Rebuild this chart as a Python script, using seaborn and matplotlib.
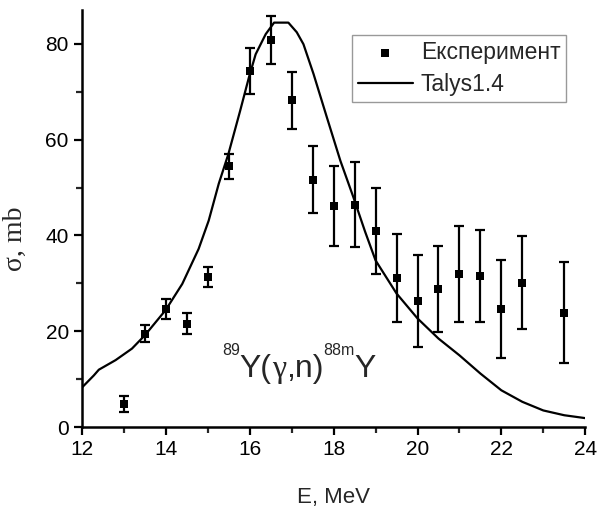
import matplotlib
matplotlib.use("Agg")
import matplotlib.pyplot as plt
from matplotlib.ticker import MultipleLocator
import pandas as pd
import seaborn as sns

# Experimental points: energy (MeV), cross section (mb), error (mb)
exp_e = [13.0, 13.5, 14.0, 14.5, 15.0, 15.5, 16.0, 16.5, 17.0, 17.5, 18.0,
         18.5, 19.0, 19.5, 20.0, 20.5, 21.0, 21.5, 22.0, 22.5, 23.5]
exp_sigma = [4.9, 19.5, 24.6, 21.6, 31.4, 54.4, 74.4, 80.8, 68.2, 51.6, 46.2,
             46.4, 41.0, 31.1, 26.3, 28.8, 31.9, 31.5, 24.6, 30.1, 23.9]
exp_err = [1.7, 1.8, 2.1, 2.2, 2.1, 2.6, 4.8, 5.0, 6.0, 7.0, 8.3,
           8.9, 9.0, 9.2, 9.6, 9.0, 10.0, 9.6, 10.2, 9.7, 10.6]

# Talys1.4 calculation
talys_e = [12.0, 12.28, 12.4, 12.8, 13.19, 13.5, 13.99, 14.39, 14.78, 15.02,
           15.26, 15.49, 15.77, 15.98, 16.14, 16.38, 16.58, 16.92, 17.12,
           17.28, 17.52, 17.84, 18.16, 18.47, 18.75, 19.0, 19.5, 20.0, 20.5,
           21.0, 21.5, 22.0, 22.5, 23.0, 23.5, 24.0]
talys_sigma = [8.3, 10.8, 12.0, 14.0, 16.4, 19.2, 24.4, 29.9, 37.2, 43.1,
               50.8, 57.0, 66.0, 73.0, 77.8, 82.0, 84.4, 84.4, 82.4,
               79.9, 73.7, 64.6, 55.6, 48.0, 40.8, 34.8, 27.9, 22.7, 18.5,
               15.0, 11.2, 7.7, 5.3, 3.5, 2.5, 1.9]

# reaction label pieces: (text, superscript?, serif?)
reaction_parts = [("89", True, False), ("Y(", False, False), ("γ", False, True),
                  (",n)", False, False), ("88m", True, False), ("Y", False, False)]

exp_df = pd.DataFrame({"E": exp_e, "sigma": exp_sigma, "err": exp_err})
talys_df = pd.DataFrame({"E": talys_e, "sigma": talys_sigma})

sns.set_theme(style="ticks")
plt.rcParams["font.family"] = ["Liberation Sans", "DejaVu Sans"]
serif = ["Liberation Serif", "DejaVu Serif"]

fig = plt.figure(figsize=(5.99, 5.08), dpi=100)
ax = fig.add_axes([0.137, 0.159, 0.840, 0.821])

ax.errorbar(exp_df["E"], exp_df["sigma"], yerr=exp_df["err"], fmt="none",
            ecolor="black", elinewidth=1.6, capsize=3.8, capthick=1.6, zorder=2)
sns.scatterplot(data=exp_df, x="E", y="sigma", marker="s", s=30, color="black",
                edgecolor="black", linewidth=0, ax=ax, label="Експеримент",
                zorder=3)
sns.lineplot(data=talys_df, x="E", y="sigma", color="black", linewidth=1.6,
             ax=ax, label="Talys1.4", zorder=4)

ax.set_xlim(12, 24)
ax.set_ylim(0, 87)
ax.xaxis.set_major_locator(MultipleLocator(2))
ax.xaxis.set_minor_locator(MultipleLocator(1))
ax.yaxis.set_major_locator(MultipleLocator(20))
ax.yaxis.set_minor_locator(MultipleLocator(10))
ax.tick_params(which="major", direction="out", length=6, width=1.6,
               labelsize=15, colors="black")
ax.tick_params(which="minor", direction="out", length=4, width=1.6)

sns.despine(ax=ax)
for side in ("left", "bottom"):
    ax.spines[side].set_linewidth(1.8)
    ax.spines[side].set_color("black")

ax.set_xlabel("E, MeV", fontsize=16, labelpad=20)
ax.set_ylabel("σ, mb", fontsize=20, family=serif)
ax.yaxis.set_label_coords(-0.107, 0.453)

# chain the reaction label pieces left to right on a common baseline
y0 = 0.12
prev = None
for txt, sup, is_serif in reaction_parts:
    size = 11.5 if sup else 23
    dy = 16 if sup else 0
    if prev is None:
        xy, coords = (0.278, y0), "axes fraction"
    else:
        xy, coords = (1, y0), (prev, "axes fraction")
    kw = {"family": serif} if is_serif else {}
    prev = ax.annotate(txt, xy=xy, xycoords=coords, xytext=(0, dy),
                       textcoords="offset points", fontsize=size,
                       ha="left", va="baseline", **kw)

leg = ax.legend(loc="upper left", bbox_to_anchor=(0.536, 0.940), fontsize=16.5,
                frameon=True, fancybox=False, handlelength=2.4,
                borderpad=0.26, labelspacing=0.4, handletextpad=0.35,
                borderaxespad=0)
leg.get_frame().set_edgecolor("#808080")
leg.get_frame().set_linewidth(1.0)

fig.savefig("out.png", dpi=100)
